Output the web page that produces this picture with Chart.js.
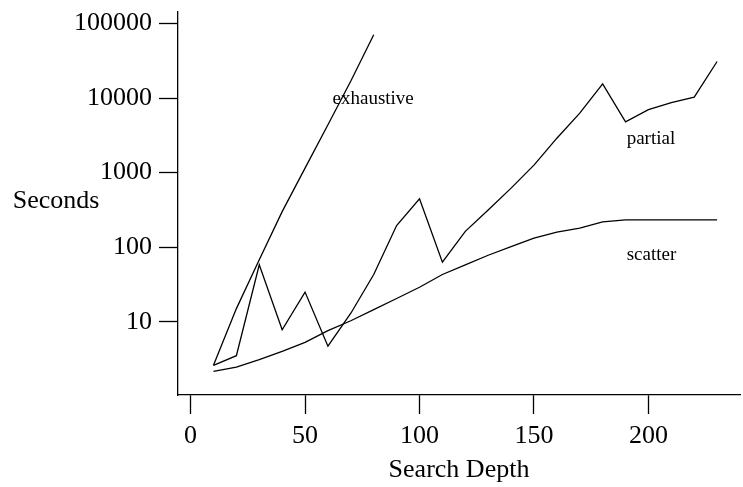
<!DOCTYPE html>
<html>
<head>
<meta charset="utf-8">
<script src="https://cdn.jsdelivr.net/npm/chart.js@4/dist/chart.umd.min.js"></script>
<style>
  html, body { margin: 0; padding: 0; background: #fff; }
  #wrap { width: 743px; height: 487px; position: relative; }
</style>
</head>
<body>
<div id="wrap"><canvas id="depthChart"></canvas></div>
<script>
// search depth (x)
const depths = [10, 20, 30, 40, 50, 60, 70, 80, 90, 100, 110, 120, 130, 140, 150, 160, 170, 180, 190, 200, 210, 220, 230];

// seconds
const exhaustive = [2.6, 15, 68, 300, 1150, 4400, 17000, 71000];
const partial = [2.6, 3.5, 58, 7.8, 25, 4.7, 13, 43, 195, 445, 63, 163, 316, 620, 1260, 2900, 6300, 15500, 4800, 7000, 8700, 10300, 31000];
const scatter = [2.16, 2.46, 3.1, 4.0, 5.3, 7.6, 10.3, 14.5, 20.5, 29, 43, 58, 78, 102, 132, 159, 180, 218, 233, 233, 233, 233, 233];

const xTicks = [0, 50, 100, 150, 200];
const yTicks = [10, 100, 1000, 10000, 100000];

// inline series labels: [text, x, y]
const seriesLabels = [
    ['exhaustive', 62, 9800],
    ['partial', 190.5, 2800],
    ['scatter', 190.5, 79]
];

const serif = "'Liberation Serif', 'Times New Roman', serif";

function toPoints(values) {
    return values.map((v, i) => ({ x: depths[i], y: v }));
}

function lineSet(name, values) {
    return {
        label: name,
        data: toPoints(values),
        borderColor: '#000',
        borderWidth: 1.3,
        pointRadius: 0,
        tension: 0,
        fill: false
    };
}

// 曲线旁的文字和纵轴标题
const textPlugin = {
    id: 'textPlugin',
    afterDatasetsDraw(chart) {
        const ctx = chart.ctx;
        const xs = chart.scales.x;
        const ys = chart.scales.y;
        ctx.save();
        ctx.fillStyle = '#000';
        ctx.textBaseline = 'middle';
        ctx.textAlign = 'left';
        ctx.font = '19px ' + serif;
        seriesLabels.forEach(l => {
            ctx.fillText(l[0], xs.getPixelForValue(l[1]), ys.getPixelForValue(l[2]));
        });
        ctx.font = '26px ' + serif;
        ctx.textAlign = 'center';
        ctx.fillText('Seconds', 56, 201);
        ctx.restore();
    }
};

document.addEventListener('DOMContentLoaded', function() {
    const ctx = document.getElementById('depthChart');

    new Chart(ctx, {
        type: 'line',
        data: {
            datasets: [
                lineSet('exhaustive', exhaustive),
                lineSet('partial', partial),
                lineSet('scatter', scatter)
            ]
        },
        options: {
            responsive: true,
            maintainAspectRatio: false,
            animation: false,
            layout: {
                padding: { top: 12, right: 3, left: 0, bottom: 0 }
            },
            plugins: {
                legend: { display: false },
                tooltip: { enabled: false }
            },
            scales: {
                x: {
                    type: 'linear',
                    min: -5.5,
                    max: 240,
                    afterBuildTicks: axis => {
                        axis.ticks = xTicks.map(v => ({ value: v }));
                    },
                    afterFit: axis => {
                        axis.height = 92;
                        axis.paddingLeft = 0;
                        axis.paddingRight = 0;
                    },
                    border: { display: true, color: '#000', width: 1.3 },
                    grid: {
                        drawOnChartArea: false,
                        drawTicks: true,
                        tickLength: 19,
                        tickColor: '#000',
                        tickWidth: 1.3
                    },
                    ticks: {
                        color: '#000',
                        padding: 7,
                        maxRotation: 0,
                        font: { family: serif, size: 26 }
                    },
                    title: {
                        display: true,
                        text: 'Search Depth',
                        color: '#000',
                        padding: { top: 0, bottom: 1 },
                        font: { family: serif, size: 26, lineHeight: 1.2 }
                    }
                },
                y: {
                    type: 'logarithmic',
                    min: 1.04,
                    max: 143000,
                    afterBuildTicks: axis => {
                        axis.ticks = yTicks.map(v => ({ value: v }));
                    },
                    afterFit: axis => {
                        axis.width = 178;
                        axis.paddingTop = 0;
                        axis.paddingBottom = 0;
                    },
                    border: { display: true, color: '#000', width: 1.3 },
                    grid: {
                        drawOnChartArea: false,
                        drawTicks: true,
                        tickLength: 19,
                        tickColor: '#000',
                        tickWidth: 1.3
                    },
                    ticks: {
                        color: '#000',
                        padding: 7,
                        font: { family: serif, size: 26 },
                        callback: v => String(v)
                    }
                }
            }
        },
        plugins: [textPlugin]
    });
});
</script>
</body>
</html>
